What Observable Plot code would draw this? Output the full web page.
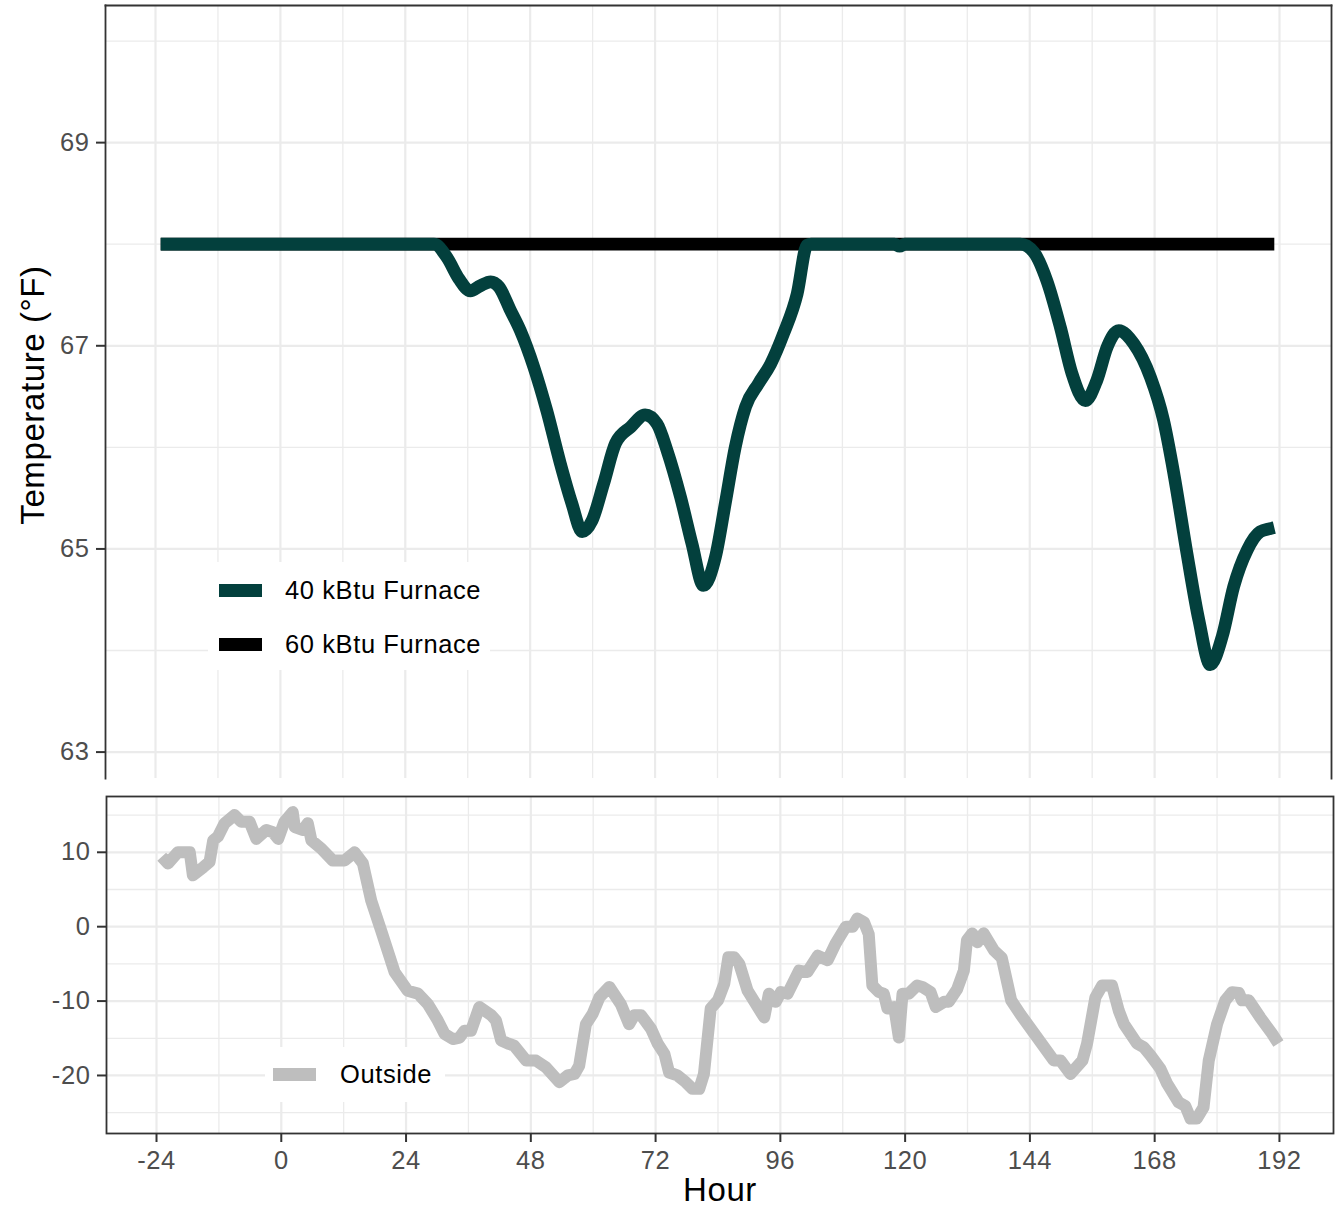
<!DOCTYPE html>
<html>
<head>
<meta charset="utf-8">
<script src="https://cdn.jsdelivr.net/npm/d3@7"></script>
<script src="https://cdn.jsdelivr.net/npm/@observablehq/plot@0.6"></script>
<style>
  body { margin: 0; background: #fff; font-family: "Liberation Sans", Arial, sans-serif; }
  #fig { position: relative; width: 1344px; height: 1210px; overflow: hidden; background: #fff; }
  #fig > div.panel { position: absolute; left: 0; }
  .legend { position: absolute; background: #fff; }
  .legend .sw { position: absolute; width: 43px; height: 13px; }
  .legend .lab { position: absolute; font-size: 25.5px; letter-spacing: 0.6px; color: #000; line-height: 1; white-space: nowrap; }
  .title { position: absolute; font-size: 33px; letter-spacing: 0.6px; color: #000; white-space: nowrap; line-height: 0.85; }
</style>
</head>
<body>
<div id="fig">
  <div class="panel" id="topPanel" style="top:0"></div>
  <div class="panel" id="bottomPanel" style="top:780px"></div>

  <div class="legend" style="left:208px; top:562px; width:282px; height:108px;">
    <div class="sw" style="left:11px; top:21.5px; background:#03403D;"></div>
    <div class="lab" style="left:77px; top:15.5px;">40 kBtu Furnace</div>
    <div class="sw" style="left:11px; top:75.5px; background:#000;"></div>
    <div class="lab" style="left:77px; top:69.5px;">60 kBtu Furnace</div>
  </div>

  <div class="legend" style="left:265px; top:1047px; width:180px; height:55px;">
    <div class="sw" style="left:8px; top:20.5px; background:#BEBEBE;"></div>
    <div class="lab" style="left:75px; top:14.5px;">Outside</div>
  </div>

  <div class="title" style="left:33px; top:395px; transform: translate(-50%,-50%) rotate(-90deg);">Temperature (°F)</div>
  <div class="title" style="left:720px; top:1176px; transform: translateX(-50%);">Hour</div>
</div>

<script>
// Indoor temperature, 40 kBtu furnace (hour, °F)
const furnace40Hours = [-23, 29.5, 32.0, 34.3, 36.5, 38.4, 40.4, 42.0, 44.2, 46.1, 48.7, 51.2, 53.8, 56.0, 58.0,
  59.9, 62.1, 64.4, 67.3, 70.1, 72.4, 74.3, 76.9, 79.1, 81.3, 83.6, 85.5, 87.4, 89.4, 91.9, 94.2, 96.7, 99.3,
  101.2, 102, 118, 119, 120, 142.2, 144.8, 147.3, 149.9, 152.1, 154.7, 156.9, 158.9, 161.1, 164.0, 167.2,
  169.7, 171.7, 174.2, 176.5, 178.7, 181.0, 183.2, 185.8, 188.3, 190.2, 191];
const furnace40Temp = [68, 68, 67.87, 67.66, 67.54, 67.59, 67.63, 67.58, 67.35, 67.15, 66.79, 66.36, 65.84, 65.45, 65.17,
  65.28, 65.64, 66.04, 66.20, 66.32, 66.23, 65.97, 65.51, 65.05, 64.64, 64.92, 65.45, 66.0, 66.40, 66.63, 66.82, 67.12, 67.51,
  67.99, 68, 68, 67.98, 68, 68, 67.92, 67.64, 67.18, 66.73, 66.46, 66.66, 66.99, 67.15, 67.02, 66.69,
  66.27, 65.74, 64.96, 64.30, 63.86, 64.14, 64.63, 64.99, 65.17, 65.20, 65.21];

// Indoor temperature, 60 kBtu furnace (holds the setpoint throughout)
const furnace60Hours = [-23, 191];
const furnace60Temp = [68, 68];

// Outside air temperature (hour, °F)
const outsideHours = [-23, -21.8, -19.9, -17.6, -17.0, -15.0, -13.8, -13.1, -12.2, -10.9, -9.0, -7.7, -6.1, -4.8,
  -2.9, -1.6, -0.6, 0.6, 2.2, 2.6, 4.2, 5.1, 5.8, 7.7, 9.9, 12.2, 14.1, 15.7, 17.3, 19.2, 21.8, 24.3, 26.3, 28.2,
  30.1, 31.4, 33.0, 34.3, 35.2, 36.5, 38.1, 40.4, 41.3, 42.3, 43.6, 44.8, 47.1, 49.0, 50.9, 53.5, 55.1, 56.4, 57.3,
  58.6, 59.9, 61.2, 63.1, 65.3, 66.9, 67.9, 69.2, 71.1, 72.4, 73.7, 74.6, 76.2, 77.8, 79.1, 80.4, 81.3, 82.6, 84.0,
  85.2, 86.0, 87.1, 88.1, 89.7, 92.9, 93.8, 95.1, 96.1, 97.4, 99.6, 101.2, 103.2, 105.1, 106.6, 108.6, 109.9, 110.8,
  112.1, 113.0, 113.7, 115.0, 115.9, 116.6, 117.9, 118.8, 119.5, 120.7, 122.3, 123.3, 124.9, 125.9, 127.5, 128.4,
  130.0, 131.3, 131.9, 132.9, 133.9, 135.1, 137.1, 138.6, 140.4, 142.2, 145.4, 148.6, 149.9, 151.8, 154.1, 155.0,
  156.6, 157.9, 159.8, 161.1, 162.1, 164.6, 165.9, 167.2, 169.1, 170.4, 172.6, 173.9, 174.9, 176.1, 177.4, 178.4,
  180.0, 181.6, 182.9, 184.2, 184.8, 186.1, 188.3, 190.6, 191.8];
const outsideTemp = [9.4, 8.5, 10.0, 10.0, 6.9, 8.0, 8.7, 11.6, 12.1, 13.9, 15.0, 14.1, 14.1, 11.8,
  13.0, 12.7, 11.8, 14.1, 15.4, 13.4, 13.0, 13.9, 11.6, 10.5, 8.9, 8.9, 10.0, 8.5, 3.5, -0.5, -6.1, -8.6, -9.0, -10.4,
  -12.6, -14.4, -15.1, -14.9, -14.0, -14.0, -10.8, -11.9, -12.6, -15.3, -15.7, -16.0, -18.0, -18.0, -18.9, -20.9, -20.0, -19.8, -18.7,
  -13.1, -11.7, -9.5, -8.1, -10.4, -13.1, -11.9, -11.9, -13.7, -15.7, -17.1, -19.6, -20.0, -20.9, -21.8, -21.8, -19.8, -11.0, -9.9,
  -7.7, -4.1, -4.1, -5.0, -8.6, -12.2, -9.0, -10.1, -8.8, -9.0, -5.9, -6.1, -3.9, -4.5, -2.3, 0.0, 0.0, 1.1,
  0.6, -1.0, -7.9, -8.8, -9.0, -11.0, -10.8, -14.9, -9.0, -9.0, -7.9, -8.1, -8.8, -10.8, -10.1, -10.1,
  -8.4, -5.9, -1.8, -0.9, -2.1, -0.9, -3.2, -4.2, -9.9, -11.8, -14.9, -18.0, -18.0, -19.8, -18.0, -15.7,
  -9.5, -7.9, -7.9, -11.3, -13.1, -15.7, -16.2, -17.3, -19.1, -21.1, -23.6, -24.1, -25.8, -25.8, -24.3, -18.0,
  -13.1, -9.9, -8.8, -8.9, -9.9, -9.9, -12.2, -14.4, -15.7];

// Tick and grid positions
const hourTicks = [-24, 0, 24, 48, 72, 96, 120, 144, 168, 192];
const hourMinor = [-12, 12, 36, 60, 84, 108, 132, 156, 180];
const indoorTicks = [63, 65, 67, 69];
const indoorMinor = [64, 66, 68, 70];
const outsideTicks = [-20, -10, 0, 10];
const outsideMinor = [-25, -15, -5, 5, 15];

const zip = (xs, ys) => xs.map((h, i) => ({hour: h, temp: ys[i]}));
const furnace40 = zip(furnace40Hours, furnace40Temp);
const furnace60 = zip(furnace60Hours, furnace60Temp);
const outside = zip(outsideHours, outsideTemp);

const FONT = "'Liberation Sans', Arial, sans-serif";
const GRID = "#EBEBEB";
const BORDER = "#333333";
const TICKTXT = "#4D4D4D";
const plainNumber = (d) => String(d); // hyphen-minus, no decimals

const grids = (xMaj, xMin, yMaj, yMin) => [
  Plot.gridY(yMin, {stroke: GRID, strokeOpacity: 1, strokeWidth: 1.3}),
  Plot.gridX(xMin, {stroke: GRID, strokeOpacity: 1, strokeWidth: 1.3}),
  Plot.gridY(yMaj, {stroke: GRID, strokeOpacity: 1, strokeWidth: 2.2}),
  Plot.gridX(xMaj, {stroke: GRID, strokeOpacity: 1, strokeWidth: 2.2})
];

const tickStyle = {fontSize: 25.5, stroke: BORDER, strokeWidth: 2, fill: TICKTXT, label: null, tickFormat: plainNumber};

// Indoor panel: open at the bottom, the outside panel sits below it
const topPlot = Plot.plot({
  width: 1344,
  height: 779,
  marginLeft: 105,
  marginRight: 13,
  marginTop: 5,
  marginBottom: 1,
  style: {fontFamily: FONT, background: "transparent", overflow: "visible", letterSpacing: "0.6px"},
  x: {domain: [-33.61, 201.99], axis: null},
  y: {domain: [62.74, 70.35]},
  marks: [
    ...grids(hourTicks, hourMinor, indoorTicks, indoorMinor),
    Plot.axisY(indoorTicks, {...tickStyle, tickSize: 9, tickPadding: 7}),
    Plot.frame({anchor: "left", stroke: BORDER, strokeWidth: 1.8}),
    Plot.frame({anchor: "right", stroke: BORDER, strokeWidth: 1.8}),
    Plot.frame({anchor: "top", stroke: BORDER, strokeWidth: 1.8}),
    Plot.line(furnace60, {x: "hour", y: "temp", stroke: "#000000", strokeWidth: 12.7, strokeLinecap: "butt", strokeLinejoin: "round"}),
    Plot.line(furnace40, {x: "hour", y: "temp", stroke: "#03403D", strokeWidth: 12.7, strokeLinecap: "butt", strokeLinejoin: "round", curve: "monotone-x"})
  ]
});
document.getElementById("topPanel").appendChild(topPlot);

// Outside temperature panel with the shared hour axis
const bottomPlot = Plot.plot({
  width: 1344,
  height: 430,
  marginLeft: 106,
  marginRight: 11,
  marginTop: 16,
  marginBottom: 77,
  style: {fontFamily: FONT, background: "transparent", overflow: "visible", letterSpacing: "0.6px"},
  x: {domain: [-33.62, 202.4]},
  y: {domain: [-27.8, 17.5]},
  marks: [
    ...grids(hourTicks, hourMinor, outsideTicks, outsideMinor),
    Plot.axisY(outsideTicks, {...tickStyle, tickSize: 9, tickPadding: 7}),
    Plot.axisX(hourTicks, {...tickStyle, tickSize: 9, tickPadding: 8}),
    Plot.frame({stroke: BORDER, strokeWidth: 1.8}),
    Plot.line(outside, {x: "hour", y: "temp", stroke: "#BEBEBE", strokeWidth: 12, strokeLinecap: "butt", strokeLinejoin: "round"})
  ]
});
document.getElementById("bottomPanel").appendChild(bottomPlot);
</script>
</body>
</html>
